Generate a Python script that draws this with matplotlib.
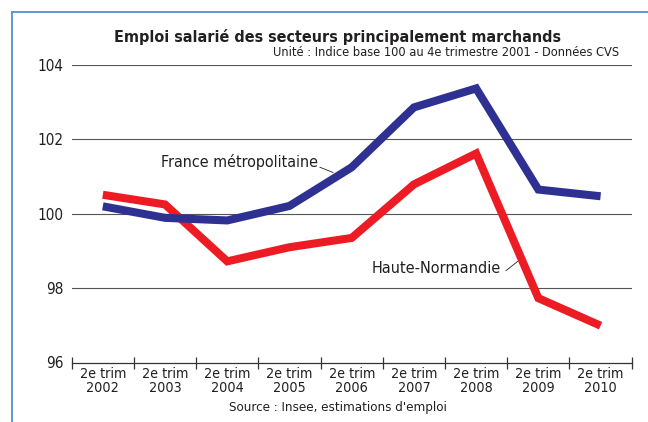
import matplotlib
matplotlib.use("Agg")
import matplotlib.pyplot as plt
from matplotlib.lines import Line2D

# ---- data ----
categories = ["2e trim\n2002", "2e trim\n2003", "2e trim\n2004", "2e trim\n2005",
              "2e trim\n2006", "2e trim\n2007", "2e trim\n2008", "2e trim\n2009",
              "2e trim\n2010"]
france = [100.20, 99.89, 99.82, 100.21, 101.25, 102.86, 103.37, 100.65, 100.47]
haute_normandie = [100.51, 100.25, 98.72, 99.10, 99.35, 100.79, 101.62, 97.73, 96.99]
yticks = [96, 98, 100, 102, 104]

title = "Emploi salarié des secteurs principalement marchands"
subtitle = "Unité : Indice base 100 au 4e trimestre 2001 - Données CVS"
source = "Source : Insee, estimations d'emploi"

plt.rcParams["font.family"] = ["DejaVu Sans"]
plt.rcParams["font.stretch"] = "condensed"

BLUE = "#2e3192"
RED = "#ed1c24"
TXT = "#231f20"

fig = plt.figure(figsize=(6.48, 4.22), dpi=100)
W, H = 648, 422
ax = fig.add_axes([71.7 / W, (H - 362.5) / H, (631.7 - 71.7) / W, (362.5 - 65) / H])

x = list(range(len(categories)))
ax.plot(x, haute_normandie, color=RED, lw=5.8, solid_joinstyle="miter",
        solid_capstyle="butt", zorder=3)
ax.plot(x, france, color=BLUE, lw=5.8, solid_joinstyle="miter",
        solid_capstyle="butt", zorder=4)

ax.set_xlim(-0.5, len(categories) - 0.5)
ax.set_ylim(96, 104)

for s in ["top", "right", "left"]:
    ax.spines[s].set_visible(False)
ax.spines["bottom"].set_color("#333333")
ax.spines["bottom"].set_linewidth(0.9)

ax.set_yticks(yticks)
ax.set_yticklabels([str(v) for v in yticks])
ax.tick_params(axis="y", length=0, pad=6, labelsize=11, labelcolor=TXT)
for v in yticks[1:]:
    ax.axhline(v, color="#555555", lw=0.8, zorder=1)

ax.set_xticks(x)
ax.set_xticklabels(categories, linespacing=0.95)
ax.tick_params(axis="x", which="major", length=0, pad=3.5, labelsize=10.3, labelcolor=TXT)
ax.set_xticks([i - 0.5 for i in range(len(categories) + 1)], minor=True)
ax.tick_params(axis="x", which="minor", length=9, width=0.9, direction="inout",
               color="#333333")

# annotations
ax.text(3.459, 101.39, "France métropolitaine", ha="right", va="center",
        fontsize=11.5, color=TXT)
ax.plot([3.49, 3.70], [101.25, 101.11], color=TXT, lw=0.6, zorder=5)
ax.text(6.395, 98.53, "Haute-Normandie", ha="right", va="center",
        fontsize=11.6, color=TXT)
ax.plot([6.48, 6.668], [98.47, 98.72], color=TXT, lw=0.6, zorder=5)

# titles
fig.text(338 / W, 1 - 37 / H, title, ha="center", va="center", fontsize=11.5,
         fontweight="bold", color=TXT)
fig.text(619 / W, 1 - 53 / H, subtitle, ha="right", va="center", fontsize=9.2,
         color=TXT)
fig.text(338 / W, 1 - 408 / H, source, ha="center", va="center", fontsize=9.5,
         color=TXT)

# frame
fig.add_artist(Line2D([12 / W, 1], [1 - 12 / H, 1 - 12 / H], color="#5b8ed0", lw=1.3))
fig.add_artist(Line2D([12 / W, 12 / W], [1 - 12 / H, 0], color="#5b8ed0", lw=1.3))

fig.savefig("out.png", dpi=100)
